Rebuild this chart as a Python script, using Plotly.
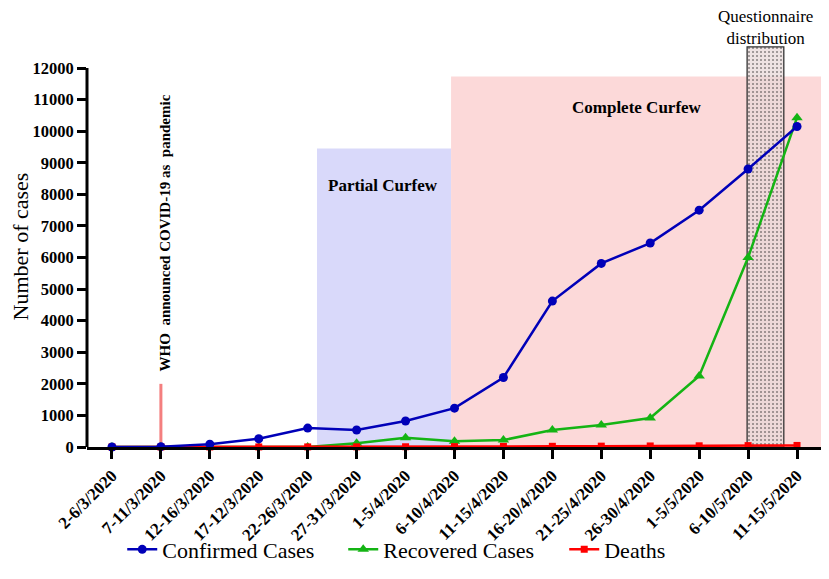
import plotly.graph_objects as go

# periods (x categories)
periods = ["2-6/3/2020", "7-11/3/2020", "12-16/3/2020", "17-12/3/2020", "22-26/3/2020",
           "27-31/3/2020", "1-5/4/2020", "6-10/4/2020", "11-15/4/2020", "16-20/4/2020",
           "21-25/4/2020", "26-30/4/2020", "1-5/5/2020", "6-10/5/2020", "11-15/5/2020"]
confirmed = [0, 10, 90, 260, 600, 540, 825, 1230, 2200, 4620, 5815, 6460, 7500, 8806, 10150]
recovered = [0, 0, 0, 0, 0, 120, 295, 180, 220, 540, 700, 920, 2250, 6000, 10430]
deaths = [0, 0, 1, 2, 3, 5, 8, 12, 18, 22, 27, 33, 38, 44, 49]

y_ticks = list(range(0, 12001, 1000))
y_ticktext = [str(v) for v in y_ticks]

# event periods (x in category index units, y in cases)
who_x, who_top = 1, 2000
partial_x = (4.19, 6.93)
partial_top = 9450
complete_x = (6.93, 14.49)
complete_top = 11735
quest_x = (12.98, 13.73)
quest_top = 12670
Y_MAX = 12700  # room above the axis for the questionnaire box

FONT = "Times New Roman"
x = list(range(len(periods)))

fig = go.Figure()

# questionnaire box (dotted pattern)
fig.add_trace(go.Bar(
    x=[(quest_x[0] + quest_x[1]) / 2], y=[quest_top], width=[quest_x[1] - quest_x[0]],
    showlegend=False, hoverinfo="skip",
    marker=dict(color="rgba(0,0,0,0)", line=dict(color="#333333", width=1.3),
                pattern=dict(shape=".", fgcolor="#222222", bgcolor="rgba(232,216,216,0.7)",
                             size=4, solidity=0.2)),
))

fig.add_trace(go.Scatter(x=x, y=recovered, name="Recovered Cases", mode="lines+markers",
                         line=dict(color="#14b414", width=2.5), cliponaxis=False, legendrank=2,
                         marker=dict(symbol="triangle-up", size=10, color="#14b414")))
fig.add_trace(go.Scatter(x=x, y=deaths, name="Deaths", mode="lines+markers",
                         line=dict(color="#ff0000", width=2.5), cliponaxis=False, legendrank=3,
                         marker=dict(symbol="square", size=7, color="#ff0000")))
fig.add_trace(go.Scatter(x=x, y=confirmed, name="Confirmed Cases", mode="lines+markers",
                         line=dict(color="#0000b8", width=2.5), cliponaxis=False, legendrank=1,
                         marker=dict(symbol="circle", size=9, color="#0000b8")))

# shaded curfew periods
fig.add_shape(type="rect", xref="x", yref="y", x0=partial_x[0], x1=partial_x[1], y0=0, y1=partial_top,
              fillcolor="#d9d9fa", line_width=0, layer="below")
fig.add_shape(type="rect", xref="x", yref="y", x0=complete_x[0], x1=complete_x[1], y0=0, y1=complete_top,
              fillcolor="#fcd9d9", line_width=0, layer="below")
# WHO marker line
fig.add_shape(type="line", xref="x", yref="y", x0=who_x, x1=who_x, y0=0, y1=who_top,
              line=dict(color="#f47f7f", width=3), layer="below")
# y axis line only up to the last tick
fig.add_shape(type="line", xref="paper", yref="y", x0=0, x1=0, y0=0, y1=y_ticks[-1],
              line=dict(color="black", width=3))

fig.add_annotation(x=1.08, y=6790, text="<b>WHO  announced COVID-19 as  pandemic</b>", textangle=-90,
                   showarrow=False, font=dict(family=FONT, size=15, color="black"))
fig.add_annotation(x=5.54, y=8280, text="<b>Partial Curfew</b>", showarrow=False,
                   font=dict(family=FONT, size=17, color="black"))
fig.add_annotation(x=10.73, y=10750, text="<b>Complete Curfew</b>", showarrow=False,
                   font=dict(family=FONT, size=17, color="black"))
fig.add_annotation(x=13.35, xref="x", y=1.045, yref="paper", yanchor="middle",
                   text="Questionnaire<br>distribution", showarrow=False,
                   font=dict(family=FONT, size=17, color="black"))

fig.update_layout(
    width=813, height=563,
    margin=dict(l=79, r=0, t=38, b=124),
    plot_bgcolor="white", paper_bgcolor="white",
    font=dict(family=FONT, color="black"),
    barmode="overlay",
    xaxis=dict(range=[-0.51, 14.49], tickvals=x, ticktext=[f"<b>{p}</b>" for p in periods], tickangle=-45,
               showline=True, linecolor="black", linewidth=3, showgrid=False, zeroline=False,
               ticks="outside", ticklen=9, tickwidth=3, tickcolor="black", automargin=False,
               tickfont=dict(family=FONT, size=17)),
    yaxis=dict(range=[0, Y_MAX], tickvals=y_ticks, ticktext=[f"<b>{t}</b>" for t in y_ticktext],
               showline=False, automargin=False,
               showgrid=False, zeroline=False, ticks="outside", ticklen=9, tickwidth=3, tickcolor="black",
               tickfont=dict(family=FONT, size=16.5),
               title=dict(text="Number of cases", font=dict(family=FONT, size=22), standoff=0)),
    legend=dict(orientation="h", x=0.048, xanchor="left", y=-0.308, yanchor="bottom",
                entrywidth=176, entrywidthmode="pixels",
                font=dict(family=FONT, size=22), bgcolor="rgba(0,0,0,0)"),
)

fig.write_html("out.html")
